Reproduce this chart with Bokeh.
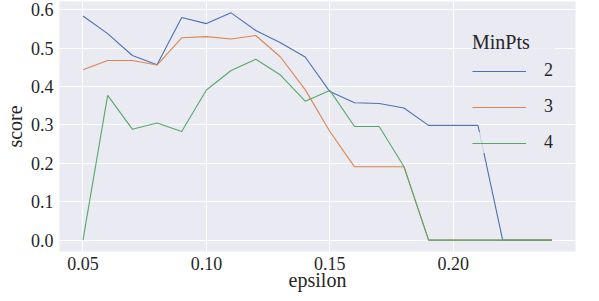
from bokeh.plotting import figure
from bokeh.models import Range1d, FixedTicker, NumeralTickFormatter, Legend, LegendItem
from bokeh.embed import file_html
from bokeh.resources import INLINE

epsilon = [0.05, 0.06, 0.07, 0.08, 0.09, 0.10, 0.11, 0.12, 0.13, 0.14,
           0.15, 0.16, 0.17, 0.18, 0.19, 0.20, 0.21, 0.22, 0.23, 0.24]
score_2 = [0.584, 0.538, 0.481, 0.457, 0.580, 0.564, 0.592, 0.546, 0.514, 0.477,
           0.387, 0.358, 0.356, 0.344, 0.299, 0.299, 0.299, 0.0, 0.0, 0.0]
score_3 = [0.444, 0.468, 0.468, 0.456, 0.527, 0.530, 0.524, 0.533, 0.477, 0.392,
           0.283, 0.191, 0.191, 0.191, 0.0, 0.0, 0.0, 0.0, 0.0, 0.0]
score_4 = [0.0, 0.377, 0.289, 0.305, 0.283, 0.391, 0.442, 0.471, 0.430, 0.362,
           0.390, 0.296, 0.296, 0.192, 0.0, 0.0, 0.0, 0.0, 0.0, 0.0]
series_labels = ["2", "3", "4"]
legend_title = "MinPts"
x_ticks = [0.05, 0.10, 0.15, 0.20, 0.25]
y_ticks = [0.0, 0.1, 0.2, 0.3, 0.4, 0.5, 0.6]

colors = ["#4C72B0", "#DD8452", "#55A868"]
FONT = "Liberation Serif"
TXT = "#262626"

xmin, xmax = min(epsilon), max(epsilon)
allv = score_2 + score_3 + score_4
ymin, ymax = min(allv), max(allv)
xpad = (xmax - xmin) * 0.05
ypad = (ymax - ymin) * 0.05

p = figure(width=591, height=293, output_backend="svg", toolbar_location=None,
           x_range=Range1d(xmin - xpad, xmax + xpad),
           y_range=Range1d(ymin - ypad, ymax + ypad),
           min_border_left=55, min_border_right=16, min_border_top=1, min_border_bottom=40)

p.background_fill_color = "#EAEAF2"
p.border_fill_color = "white"
p.outline_line_color = None

p.axis.axis_line_color = None
p.axis.major_tick_line_color = None
p.axis.minor_tick_line_color = None
p.axis.major_tick_out = 0
p.axis.major_tick_in = 0
p.axis.axis_label_text_font = FONT
p.axis.axis_label_text_font_size = "20px"
p.axis.axis_label_text_font_style = "normal"
p.axis.axis_label_text_color = TXT
p.axis.major_label_text_font = FONT
p.axis.major_label_text_font_size = "18px"
p.axis.major_label_text_font_style = "normal"
p.axis.major_label_text_color = TXT

p.xaxis.ticker = FixedTicker(ticks=x_ticks)
p.yaxis.ticker = FixedTicker(ticks=y_ticks)
p.xaxis.formatter = NumeralTickFormatter(format="0.00")
p.yaxis.formatter = NumeralTickFormatter(format="0.0")
p.xaxis.axis_label = "epsilon"
p.yaxis.axis_label = "score"
p.xaxis.major_label_standoff = 5
p.xaxis.axis_label_standoff = -4
p.yaxis.major_label_standoff = 6
p.yaxis.axis_label_standoff = 2

p.xgrid.grid_line_color = "white"
p.ygrid.grid_line_color = "white"

renderers = []
for s, c in zip([score_2, score_3, score_4], colors):
    renderers.append(p.line(epsilon, s, line_color=c, line_width=1.1))

common = dict(label_text_font=FONT, label_text_font_size="18px",
              label_text_font_style="normal", label_text_color=TXT,
              glyph_width=54, glyph_height=20, label_height=20, label_width=10,
              label_standoff=18, spacing=0, padding=10, margin=0,
              background_fill_color="#EAEAF2", background_fill_alpha=0.8,
              border_line_color=None)

# one legend block per series, stacked into one legend panel
offsets = [170, 134, 98]
for i, (r, lab) in enumerate(zip(renderers, series_labels)):
    kw = dict(common)
    if i == 0:
        kw.update(title=legend_title, title_text_font=FONT, title_text_font_size="20px",
                  title_text_font_style="normal", title_text_color=TXT, title_standoff=6)
    lg = Legend(items=[LegendItem(label=lab, renderers=[r])],
                location=(413, offsets[i]), **kw)
    p.add_layout(lg)

open("out.html", "w").write(file_html(p, INLINE))
